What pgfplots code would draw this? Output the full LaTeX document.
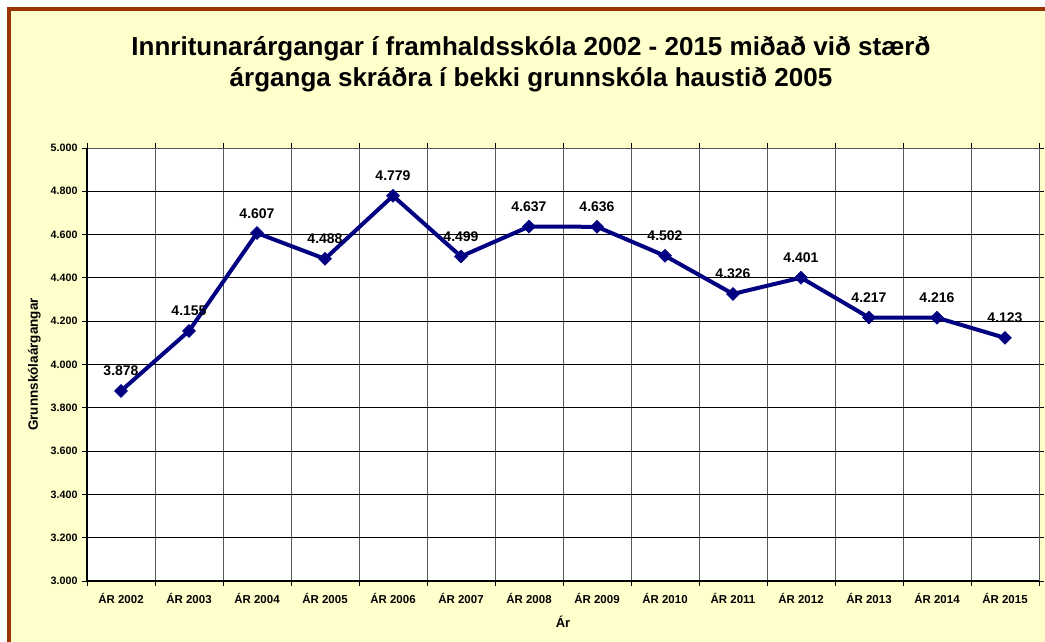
\documentclass[border=0pt]{standalone}
\usepackage{fontspec}
\setmainfont{Liberation Sans}
\usepackage{pgfplots}
\pgfplotsset{compat=1.18}
\definecolor{bg}{HTML}{FFFFCC}
\definecolor{brd}{HTML}{993300}
\definecolor{navy}{HTML}{000080}
\begin{document}
\begin{tikzpicture}[x=1pt,y=1pt]
\path[use as bounding box] (0,0) rectangle (1045,642);
\begin{scope}
\clip (0,0) rectangle (1045,642);
\fill[white] (0,0) rectangle (1045,642);
\draw[brd, line width=4pt, fill=bg] (9,-20) rectangle (1070,633);
\end{scope}
\node[font=\bfseries\fontsize{26}{31}\selectfont, align=center] at (531,578)
 {Innritunarárgangar í framhaldsskóla 2002 - 2015 miðað við stærð\\árganga skráðra í bekki grunnskóla haustið 2005};
\begin{axis}[
  at={(87pt,61pt)}, anchor=south west,
  scale only axis, width=952pt, height=433pt,
  axis background/.style={fill=white},
  xmin=-0.5, xmax=13.5, ymin=3000, ymax=5000,
  xtick={0,...,13},
  xticklabels={ÁR 2002,ÁR 2003,ÁR 2004,ÁR 2005,ÁR 2006,ÁR 2007,ÁR 2008,ÁR 2009,ÁR 2010,ÁR 2011,ÁR 2012,ÁR 2013,ÁR 2014,ÁR 2015},
  major x tick style={draw=none},
  minor xtick={-0.5,0.5,...,13.5},
  minor x grid style={gray!70!black, line width=0.9pt},
  xminorgrids=true,
  minor x tick style={black, line width=0.9pt},
  ytick={3000,3200,...,5000},
  ymajorgrids=true,
  y grid style={black, line width=0.9pt},
  y tick style={black, line width=0.9pt},
  tick align=outside,
  major tick length=5pt, minor tick length=5pt,
  axis line style={draw=none},
  scaled y ticks=false,
  /pgf/number format/.cd, fixed, precision=0, 1000 sep={.}, assume math mode=true,
  /pgfplots/.cd,
  yticklabel style={font=\bfseries\fontsize{10.7}{12}\selectfont, xshift=-1pt},
  xticklabel style={font=\bfseries\fontsize{11.5}{13}\selectfont, yshift=-4pt},
  xlabel={Ár}, ylabel={Grunnskólaárgangar},
  xlabel style={font=\bfseries\fontsize{13}{15}\selectfont, at={(axis description cs:0.5,0)}, anchor=north, yshift=-31pt},
  ylabel style={font=\bfseries\fontsize{13.5}{15}\selectfont, yshift=3pt},
  clip=false,
  nodes near coords,
  nodes near coords style={font=\bfseries\fontsize{14}{14}\selectfont, anchor=base, inner sep=0pt, yshift=15pt, text=black,
    /pgf/number format/.cd, fixed, precision=0, 1000 sep={.}, assume math mode=true},
]
\draw[gray!70!black, line width=0.9pt] (rel axis cs:0,1) -- (rel axis cs:1,1) -- (rel axis cs:1,0);
\draw[black, line width=1.1pt] (rel axis cs:0,1) -- (rel axis cs:0,0) -- (rel axis cs:1,0);
\addplot[navy, line width=4pt, mark=square*, mark size=4.6pt, mark options={solid, rotate=45, fill=navy, line width=0.5pt}] coordinates {
(0,3878) (1,4155) (2,4607) (3,4488) (4,4779) (5,4499) (6,4637) (7,4636) (8,4502) (9,4326) (10,4401) (11,4217) (12,4216) (13,4123)
};
\end{axis}
\end{tikzpicture}
\end{document}
